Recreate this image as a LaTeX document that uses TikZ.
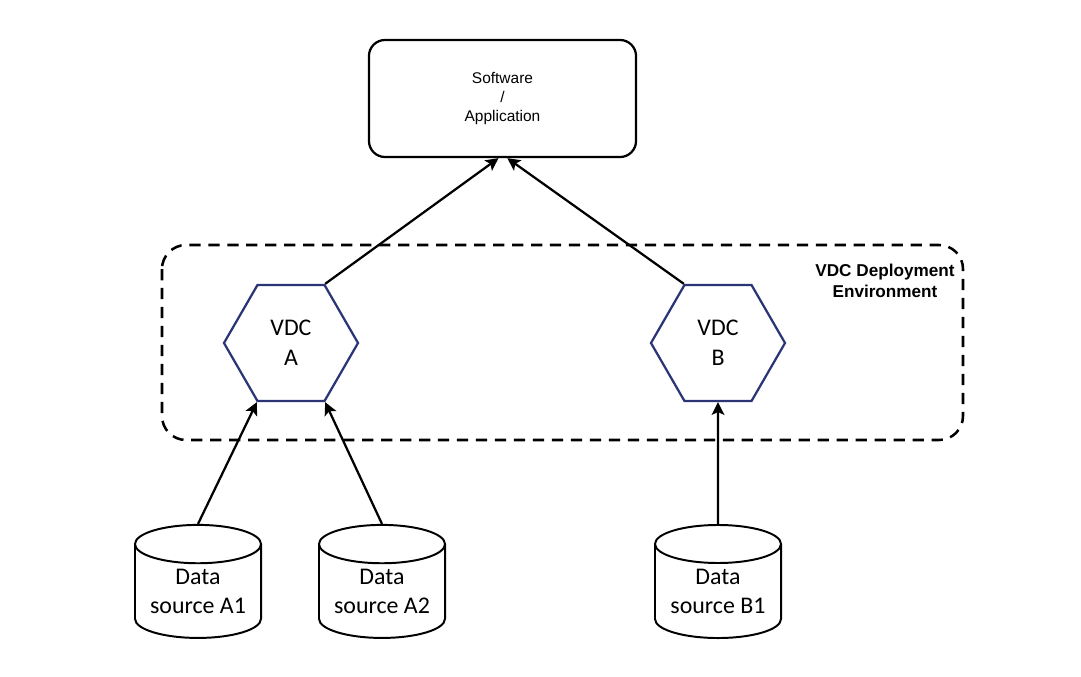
\documentclass[tikz,border=0pt]{standalone}
\usepackage{fontspec}
\setmainfont{Carlito}
\newfontfamily\arialfont{Liberation Sans}
\usetikzlibrary{shapes.geometric,arrows.meta}
\definecolor{vdcblue}{HTML}{2B3576}

\begin{document}
\begin{tikzpicture}[x=0.025cm, y=-0.025cm, line width=1.6pt,
    >={Stealth[length=9pt,width=9pt,inset=2pt]},
    vdc/.style={draw=vdcblue, regular polygon, regular polygon sides=6, minimum size=3.35cm,
        inner sep=0pt, line width=1.6pt, align=center, font=\fontsize{17}{21}\selectfont},
    source/.style={draw, cylinder, shape border rotate=90, aspect=0.4, minimum width=3.15cm,
        minimum height=2.825cm, inner sep=0pt, line width=1.4pt, align=center,
        font=\fontsize{17}{21}\selectfont}]
    \useasboundingbox (0,0) rectangle (1081,677);

    \node[draw, rounded corners=0.4cm, minimum width=6.675cm, minimum height=2.925cm, align=center,
        font=\arialfont\fontsize{11}{13.5}\selectfont] (app) at (502.5,98.5) {Software\\/\\Application};

    % the deployment environment round both VDCs
    \draw[dash pattern=on 8pt off 5.5pt, rounded corners=0.6cm, line width=1.8pt] (162,245) rectangle (963,440);
    \node[font=\arialfont\bfseries\fontsize{12.2}{15}\selectfont, align=center] (envlabel) at (885,281)
        {VDC Deployment\\Environment};

    \node[vdc] (vdcA) at (291,343) {VDC\\A};
    \node[vdc] (vdcB) at (718,343) {VDC\\B};

    \node[source] (srcA1) at (198,591.5) {Data\\source A1};
    \node[source] (srcA2) at (382,591.5) {Data\\source A2};
    \node[source] (srcB1) at (718,591.5) {Data\\source B1};

    \draw[->] (srcA1.top) -- (vdcA.corner 4);
    \draw[->] (srcA2.top) -- (vdcA.corner 5);
    \draw[->] (srcB1.top) -- (vdcB.south);
    \draw[->] (vdcA.corner 1) -- ([xshift=-0.1cm]app.south);
    \draw[->] (vdcB.corner 2) -- ([xshift=0.12cm]app.south);
\end{tikzpicture}
\end{document}
